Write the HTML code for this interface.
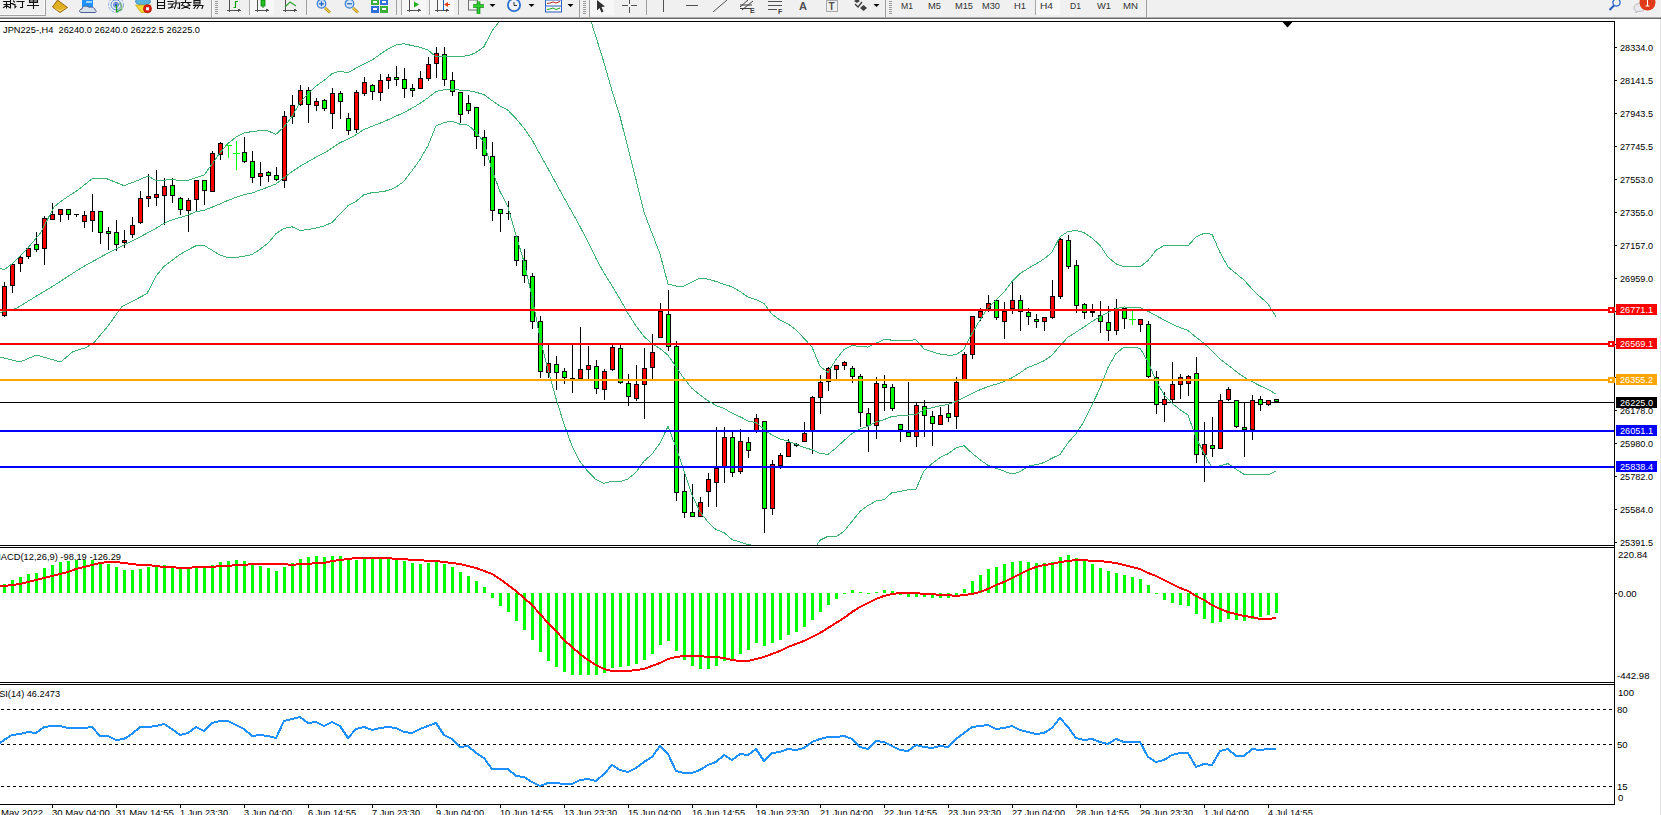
<!DOCTYPE html><html><head><meta charset="utf-8"><style>html,body{margin:0;padding:0;background:#fff;overflow:hidden;width:1661px;height:815px}svg{display:block}text{font-family:"Liberation Sans",sans-serif}</style></head><body>
<svg width="1661" height="815" viewBox="0 0 1661 815">
<rect x="0" y="0" width="1661" height="815" fill="#fff"/>
<g shape-rendering="crispEdges">
<rect x="0" y="0" width="1661" height="17" fill="#f0f0f0"/>
<rect x="0" y="17" width="1661" height="1" fill="#aaaaaa"/>
<rect x="0" y="18" width="1661" height="1" fill="#6c6c6c"/>
<rect x="1660" y="19" width="1" height="796" fill="#e2e2e2"/>
</g>
<g id="toolbar">
<!-- new order button -->
<g shape-rendering="crispEdges">
<rect x="0" y="14" width="45" height="1" fill="#fafafa"/>
<rect x="44" y="0" width="1" height="15" fill="#fafafa"/>
<rect x="0" y="15" width="46" height="1" fill="#a0a0a0"/>
<rect x="45" y="0" width="1" height="16" fill="#a0a0a0"/>
</g>
<g fill="none" stroke="#101010" stroke-width="1.1" stroke-linecap="square">
<!-- 新 -->
<path d="M3.5,1.5 H10 M4,4.5 H9.5 M6.5,1.5 V8 M3.5,7.5 L6.5,5.5 L9.5,7.5 M10.5,0.5 V8 M10.5,3.5 H13"/>
<!-- 订 -->
<path d="M13.5,1 L14.5,2 M13,4.5 H15 V7.5 L16,6.5 M17,1.5 H24 M22.5,1.5 V7.5 L20.5,7.5"/>
<!-- 单 -->
<path d="M27.5,5.5 H38.5 M29.5,0 V2.5 H37.5 V0 M29.5,1 H37.5 M33.5,0 V8.5"/>
</g>
<!-- book icon -->
<polygon points="52.5,7 57.5,0 67.5,7.5 60,12.5" fill="#e0b020" stroke="#9a6410" stroke-width="1"/>
<polygon points="54,8 60,11.5 66.5,7.5 60,10" fill="#f6dc70"/>
<!-- cloud icon -->
<rect x="82" y="0" width="11" height="7" fill="#1e90ff"/>
<rect x="86" y="1" width="6" height="2" fill="#9fd2ff"/>
<path d="M81,12.5 C79,12.5 79,9 82,9 C82,6 87,5 89,7.5 C91,6.5 95,7.5 95,10 C97,10.5 96.5,12.5 95,12.5 Z" fill="#d8e0ec" stroke="#4a6090" stroke-width="1"/>
<!-- signal icon -->
<g fill="none" stroke-width="1">
<circle cx="116" cy="4.8" r="7.5" stroke="#7fa8e0" stroke-dasharray="3,1.5"/>
<circle cx="116" cy="4.8" r="5" stroke="#5a86d8"/>
<circle cx="116" cy="4.8" r="2.5" stroke="#3f6fd0"/>
</g>
<circle cx="116" cy="4.8" r="1.5" fill="#1f4fc0"/>
<path d="M116.5,5 V12.5 M116.5,12 L122,9" stroke="#22a022" stroke-width="1.3" fill="none"/>
<path d="M119,3 A5,5 0 0 1 121,10" stroke="#70b070" stroke-width="2" fill="none" opacity="0.7"/>
<!-- auto trade icon -->
<ellipse cx="143" cy="1.5" rx="7.5" ry="3.5" fill="#5ab4e0" stroke="#3a8ab8" stroke-width="1"/>
<path d="M135.5,5 L141,12.5 L147,12.5 L151,5 Z" fill="#f2d838" stroke="#c8a820" stroke-width="0.8"/>
<circle cx="147.5" cy="8.8" r="4" fill="#e02010" stroke="#b01808" stroke-width="0.8"/>
<rect x="146" y="7.3" width="3" height="3" fill="#fff"/>
<!-- 自动交易 -->
<g fill="none" stroke="#101010" stroke-width="1.1" stroke-linecap="square">
<path d="M157.5,0 V8.5 M164.5,0 V8.5 M157.5,2.5 H164.5 M157.5,5.5 H164.5 M157.5,8.5 H164.5"/>
<path d="M168,1.5 H173 M168.5,4 H173 L171,7.5 M168.5,8 L173,7 M174,3 H179.5 V8.5 L178,8 M176,0 V4.5 L174.5,8.5"/>
<path d="M185.5,0 V1.5 M181,2.5 H191 M183,3.5 L181.5,5.5 M188,3.5 L190,5.5 M183,5.5 L189.5,8.5 M189,5.5 L182,8.5"/>
<path d="M194,0.5 H200 V4 H194 Z M194,2.2 H200 M193.5,5.5 H203 L202,8.5 M196,5.5 L194,8.5 M199,5.5 L197,8.5"/>
</g>
<!-- separators & grips -->
<g shape-rendering="crispEdges">
<rect x="211" y="0" width="1" height="17" fill="#a0a0a0"/>
<rect x="212" y="0" width="1" height="17" fill="#ffffff"/>
<rect x="306" y="0" width="1" height="15" fill="#a0a0a0"/>
<rect x="396" y="0" width="1" height="15" fill="#a0a0a0"/>
<rect x="458" y="0" width="1" height="15" fill="#a0a0a0"/>
<rect x="579" y="0" width="1" height="17" fill="#a0a0a0"/>
<rect x="589" y="0" width="1" height="17" fill="#a0a0a0"/>
<rect x="646" y="0" width="1" height="15" fill="#a0a0a0"/>
<rect x="885" y="0" width="1" height="17" fill="#a0a0a0"/>
<rect x="1146" y="0" width="1" height="17" fill="#a0a0a0"/>
<!-- pressed buttons -->
<rect x="249" y="0" width="25" height="15" fill="#f7f7f7"/>
<rect x="249" y="0" width="1" height="15" fill="#a8a8a8"/>
<rect x="401" y="0" width="25" height="15" fill="#f7f7f7"/>
<rect x="401" y="0" width="1" height="15" fill="#a8a8a8"/>
<rect x="429" y="0" width="25" height="15" fill="#f7f7f7"/>
<rect x="429" y="0" width="1" height="15" fill="#a8a8a8"/>
<rect x="590" y="0" width="24" height="15" fill="#f7f7f7"/>
<rect x="1035" y="0" width="25" height="15" fill="#f7f7f7"/>
<rect x="1035" y="0" width="1" height="15" fill="#a8a8a8"/>
</g>
<g fill="#9a9a9a" shape-rendering="crispEdges">
<rect x="215" y="1" width="3" height="1"/><rect x="215" y="3" width="3" height="1"/><rect x="215" y="5" width="3" height="1"/><rect x="215" y="7" width="3" height="1"/><rect x="215" y="9" width="3" height="1"/><rect x="215" y="11" width="3" height="1"/><rect x="215" y="13" width="3" height="1"/>
<rect x="583" y="1" width="3" height="1"/><rect x="583" y="3" width="3" height="1"/><rect x="583" y="5" width="3" height="1"/><rect x="583" y="7" width="3" height="1"/><rect x="583" y="9" width="3" height="1"/><rect x="583" y="11" width="3" height="1"/><rect x="583" y="13" width="3" height="1"/>
<rect x="889" y="1" width="3" height="1"/><rect x="889" y="3" width="3" height="1"/><rect x="889" y="5" width="3" height="1"/><rect x="889" y="7" width="3" height="1"/><rect x="889" y="9" width="3" height="1"/><rect x="889" y="11" width="3" height="1"/><rect x="889" y="13" width="3" height="1"/>
</g>
<!-- chart type icons: axes -->
<g fill="none" stroke="#505050" stroke-width="1" shape-rendering="crispEdges">
<path d="M229.5,0 V12 M227,10.5 H240 M238,9 L240,10.5 L238,12"/>
<path d="M257.5,0 V12 M255,10.5 H268 M266,9 L268,10.5 L266,12"/>
<path d="M285.5,0 V12 M283,10.5 H296 M294,9 L296,10.5 L294,12"/>
<path d="M409.5,0 V12 M407,10.5 H420 M418,9 L420,10.5 L418,12"/>
<path d="M437.5,0 V12 M435,10.5 H448 M446,9 L448,10.5 L446,12"/>
</g>
<path d="M235.5,1 V8 M235.5,1.5 H238 M233.5,7.5 H235.5" stroke="#10a010" stroke-width="1.2" fill="none"/>
<rect x="261" y="0" width="4" height="6" fill="#20c020" stroke="#108010" stroke-width="0.8"/>
<path d="M263,6 V8" stroke="#108010"/>
<path d="M285,7 L290,2 L296,6" stroke="#30a030" stroke-width="1.1" fill="none"/>
<polygon points="414,1.5 419,4.5 414,7.5" fill="#20b020"/>
<path d="M443.5,0 V11" stroke="#2060b0" stroke-width="1"/>
<polygon points="444,4.5 448,2 448,7" fill="#e04010"/>
<rect x="447" y="4" width="3" height="1" fill="#e04010"/>
<!-- zoom icons -->
<g>
<line x1="325" y1="8" x2="330" y2="12.5" stroke="#a08010" stroke-width="2.6"/>
<line x1="325" y1="8" x2="330" y2="12.5" stroke="#f0d040" stroke-width="1.4"/>
<circle cx="321.5" cy="3.8" r="4.3" fill="#d0e6f8" stroke="#3a7ad0" stroke-width="1.2"/>
<path d="M319,3.8 H324 M321.5,1.3 V6.3" stroke="#2060c0" stroke-width="1.2"/>
<line x1="353" y1="8" x2="358" y2="12.5" stroke="#a08010" stroke-width="2.6"/>
<line x1="353" y1="8" x2="358" y2="12.5" stroke="#f0d040" stroke-width="1.4"/>
<circle cx="349.5" cy="3.8" r="4.3" fill="#d0e6f8" stroke="#3a7ad0" stroke-width="1.2"/>
<path d="M347,3.8 H352" stroke="#2060c0" stroke-width="1.2"/>
</g>
<!-- tile icon -->
<g shape-rendering="crispEdges">
<rect x="371" y="0" width="8" height="5" fill="#3ab03a"/><rect x="380" y="0" width="8" height="5" fill="#2f6fd8"/>
<rect x="371" y="6" width="8" height="7" fill="#2f6fd8"/><rect x="380" y="6" width="8" height="7" fill="#3ab03a"/>
<rect x="373" y="1" width="4" height="2" fill="#fff"/><rect x="382" y="1" width="4" height="2" fill="#fff"/>
<rect x="373" y="8" width="4" height="2" fill="#fff"/><rect x="382" y="8" width="4" height="2" fill="#fff"/>
</g>
<!-- new chart icon -->
<rect x="468.5" y="0" width="9" height="10" fill="#f4f4f4" stroke="#707070" stroke-width="1"/>
<path d="M473,6 H484 M478.5,1.5 V14" stroke="#108010" stroke-width="3.6"/>
<path d="M473,6 H484 M478.5,1.5 V14" stroke="#30d030" stroke-width="2"/>
<polygon points="489.5,4 495.5,4 492.5,7" fill="#000"/>
<!-- clock -->
<circle cx="514" cy="5" r="7" fill="#2a6fd0"/>
<circle cx="514" cy="5" r="5.2" fill="#f0f4fa"/>
<path d="M514,2 V5.5 H517" stroke="#303030" stroke-width="1" fill="none"/>
<polygon points="528.5,4 534.5,4 531.5,7" fill="#000"/>
<!-- indicators icon -->
<rect x="545.5" y="0" width="16" height="12" fill="#f8f8f8" stroke="#2a60c0" stroke-width="1"/>
<rect x="546" y="5.5" width="15" height="1" fill="#2a60c0"/>
<path d="M547,3.5 L550,3 L553,2 L556,3 L560,1.5" stroke="#c03020" stroke-width="1" fill="none"/>
<path d="M547,9.5 L550,9 L553,8 L556,9.5 L560,8" stroke="#20a020" stroke-width="1" fill="none"/>
<polygon points="567.5,4 573.5,4 570.5,7" fill="#000"/>
<!-- cursor arrow -->
<polygon points="597,0 605,6.5 601.5,7 603.5,11.5 601.5,12.5 599.5,8 597,10.5" fill="#303030"/>
<!-- crosshair -->
<g shape-rendering="crispEdges" fill="#505050">
<rect x="622" y="5" width="6" height="1"/><rect x="631" y="5" width="6" height="1"/>
<rect x="629" y="0" width="1" height="4"/><rect x="629" y="7" width="1" height="6"/>
<rect x="663" y="0" width="1" height="12"/>
<rect x="686" y="5" width="12" height="1"/>
</g>
<line x1="713" y1="12" x2="727" y2="0" stroke="#505050" stroke-width="1"/>
<!-- channel E -->
<g stroke="#404040" stroke-width="1" fill="none">
<path d="M740,7 L748,0 M742,10 L753,1 M740,5 L752,5 M740,8.5 L751,8.5"/>
</g>
<text x="750" y="13" font-size="7" font-weight="bold" fill="#404040">E</text>
<!-- fibo F -->
<g shape-rendering="crispEdges" fill="#505050">
<rect x="768" y="1" width="14" height="1"/><rect x="768" y="5" width="14" height="1"/><rect x="768" y="9" width="9" height="1"/>
</g>
<text x="778" y="13.5" font-size="7" font-weight="bold" fill="#404040">F</text>
<text x="799" y="10" font-size="11" font-weight="bold" fill="#505050">A</text>
<rect x="826.5" y="0.5" width="11" height="11" fill="none" stroke="#606060" stroke-width="1" stroke-dasharray="1,1"/>
<text x="828.5" y="9.5" font-size="10" font-weight="bold" fill="#505050">T</text>
<!-- arrows icon -->
<polygon points="854,1 857,-1 860,1 857,3" fill="#404040"/>
<path d="M855,4 L858,7 L862,2" stroke="#404040" stroke-width="1.4" fill="none"/>
<polygon points="860,8 863.5,5 867,8 863.5,11" fill="#404040"/>
<polygon points="873.5,4 879.5,4 876.5,7" fill="#000"/>
<!-- periods -->
<g font-size="9.5" fill="#333">
<text x="901" y="9" textLength="12" lengthAdjust="spacingAndGlyphs">M1</text>
<text x="928" y="9" textLength="13" lengthAdjust="spacingAndGlyphs">M5</text>
<text x="955" y="9" textLength="18" lengthAdjust="spacingAndGlyphs">M15</text>
<text x="982" y="9" textLength="18" lengthAdjust="spacingAndGlyphs">M30</text>
<text x="1014" y="9" textLength="12" lengthAdjust="spacingAndGlyphs">H1</text>
<text x="1040" y="9" textLength="13" lengthAdjust="spacingAndGlyphs">H4</text>
<text x="1070" y="9" textLength="11" lengthAdjust="spacingAndGlyphs">D1</text>
<text x="1097" y="9" textLength="14" lengthAdjust="spacingAndGlyphs">W1</text>
<text x="1123" y="9" textLength="15" lengthAdjust="spacingAndGlyphs">MN</text>
</g>
<!-- search -->
<circle cx="1616.5" cy="2.5" r="3.6" fill="none" stroke="#2a66d0" stroke-width="1.3"/>
<line x1="1614" y1="5.5" x2="1609.5" y2="10" stroke="#2a5cc0" stroke-width="2"/>
<!-- chat + badge -->
<path d="M1634,8 C1634,4 1639,3 1642,3.5 C1645,4 1646,9 1643,11 L1637,11.5 L1636,13 L1636,11 C1634.5,10.5 1634,9.5 1634,8 Z" fill="#e8e8ec" stroke="#b0b0b0" stroke-width="0.8"/>
<circle cx="1647.5" cy="2.5" r="8" fill="#e03a18"/>
<path d="M1647.5,-1 V6 M1645.5,6 H1649.5" stroke="#fff" stroke-width="1.1" fill="none"/>
</g>

<g shape-rendering="crispEdges" fill="#000">
<rect x="0" y="21" width="1615" height="1"/>
<rect x="1614" y="21" width="1" height="784"/>
<rect x="0" y="545" width="1615" height="1"/>
<rect x="0" y="547" width="1615" height="1"/>
<rect x="0" y="682" width="1615" height="1"/>
<rect x="0" y="684" width="1615" height="1"/>
<rect x="0" y="804" width="1615" height="1"/>
<rect x="1615" y="47" width="2" height="1"/>
<rect x="1615" y="80" width="2" height="1"/>
<rect x="1615" y="113" width="2" height="1"/>
<rect x="1615" y="146" width="2" height="1"/>
<rect x="1615" y="179" width="2" height="1"/>
<rect x="1615" y="212" width="2" height="1"/>
<rect x="1615" y="245" width="2" height="1"/>
<rect x="1615" y="278" width="2" height="1"/>
<rect x="1615" y="311" width="2" height="1"/>
<rect x="1615" y="344" width="2" height="1"/>
<rect x="1615" y="377" width="2" height="1"/>
<rect x="1615" y="410" width="2" height="1"/>
<rect x="1615" y="443" width="2" height="1"/>
<rect x="1615" y="476" width="2" height="1"/>
<rect x="1615" y="509" width="2" height="1"/>
<rect x="1615" y="542" width="2" height="1"/>
<rect x="1615" y="593" width="2" height="1"/>
<rect x="52" y="805" width="1" height="3"/>
<rect x="116" y="805" width="1" height="3"/>
<rect x="180" y="805" width="1" height="3"/>
<rect x="244" y="805" width="1" height="3"/>
<rect x="308" y="805" width="1" height="3"/>
<rect x="372" y="805" width="1" height="3"/>
<rect x="436" y="805" width="1" height="3"/>
<rect x="500" y="805" width="1" height="3"/>
<rect x="564" y="805" width="1" height="3"/>
<rect x="628" y="805" width="1" height="3"/>
<rect x="692" y="805" width="1" height="3"/>
<rect x="756" y="805" width="1" height="3"/>
<rect x="820" y="805" width="1" height="3"/>
<rect x="884" y="805" width="1" height="3"/>
<rect x="948" y="805" width="1" height="3"/>
<rect x="1012" y="805" width="1" height="3"/>
<rect x="1076" y="805" width="1" height="3"/>
<rect x="1140" y="805" width="1" height="3"/>
<rect x="1204" y="805" width="1" height="3"/>
<rect x="1268" y="805" width="1" height="3"/>
</g>
<rect x="0" y="402" width="1614" height="1" fill="#000" shape-rendering="crispEdges"/>
<g shape-rendering="crispEdges">
<rect x="4" y="282" width="1" height="35" fill="#000"/>
<rect x="2" y="286" width="5" height="30" fill="#000"/>
<rect x="3" y="287" width="3" height="28" fill="#ff0000"/>
<rect x="12" y="264" width="1" height="29" fill="#000"/>
<rect x="10" y="264" width="5" height="22" fill="#000"/>
<rect x="11" y="265" width="3" height="20" fill="#ff0000"/>
<rect x="20" y="256" width="1" height="16" fill="#000"/>
<rect x="18" y="257" width="5" height="7" fill="#000"/>
<rect x="19" y="258" width="3" height="5" fill="#ff0000"/>
<rect x="28" y="246" width="1" height="13" fill="#000"/>
<rect x="26" y="248" width="5" height="9" fill="#000"/>
<rect x="27" y="249" width="3" height="7" fill="#ff0000"/>
<rect x="36" y="232" width="1" height="20" fill="#000"/>
<rect x="34" y="244" width="5" height="6" fill="#000"/>
<rect x="35" y="245" width="3" height="4" fill="#00ff00"/>
<rect x="44" y="216" width="1" height="49" fill="#000"/>
<rect x="42" y="218" width="5" height="31" fill="#000"/>
<rect x="43" y="219" width="3" height="29" fill="#ff0000"/>
<rect x="52" y="203" width="1" height="17" fill="#000"/>
<rect x="50" y="214" width="5" height="6" fill="#000"/>
<rect x="51" y="215" width="3" height="4" fill="#ff0000"/>
<rect x="60" y="209" width="1" height="13" fill="#000"/>
<rect x="58" y="209" width="5" height="6" fill="#000"/>
<rect x="59" y="210" width="3" height="4" fill="#ff0000"/>
<rect x="68" y="209" width="1" height="11" fill="#000"/>
<rect x="66" y="209" width="5" height="6" fill="#000"/>
<rect x="67" y="210" width="3" height="4" fill="#00ff00"/>
<rect x="76" y="214" width="1" height="3" fill="#000"/>
<rect x="74" y="214" width="5" height="1" fill="#000"/>
<rect x="84" y="211" width="1" height="17" fill="#000"/>
<rect x="82" y="215" width="5" height="7" fill="#000"/>
<rect x="83" y="216" width="3" height="5" fill="#ff0000"/>
<rect x="92" y="194" width="1" height="38" fill="#000"/>
<rect x="90" y="211" width="5" height="10" fill="#000"/>
<rect x="91" y="212" width="3" height="8" fill="#ff0000"/>
<rect x="100" y="211" width="1" height="33" fill="#000"/>
<rect x="98" y="211" width="5" height="22" fill="#000"/>
<rect x="99" y="212" width="3" height="20" fill="#00ff00"/>
<rect x="108" y="227" width="1" height="23" fill="#000"/>
<rect x="106" y="231" width="5" height="3" fill="#000"/>
<rect x="107" y="232" width="3" height="1" fill="#00ff00"/>
<rect x="116" y="220" width="1" height="31" fill="#000"/>
<rect x="114" y="232" width="5" height="13" fill="#000"/>
<rect x="115" y="233" width="3" height="11" fill="#00ff00"/>
<rect x="124" y="230" width="1" height="18" fill="#000"/>
<rect x="122" y="240" width="5" height="3" fill="#000"/>
<rect x="123" y="241" width="3" height="1" fill="#ff0000"/>
<rect x="132" y="217" width="1" height="21" fill="#000"/>
<rect x="130" y="225" width="5" height="10" fill="#000"/>
<rect x="131" y="226" width="3" height="8" fill="#ff0000"/>
<rect x="140" y="191" width="1" height="33" fill="#000"/>
<rect x="138" y="198" width="5" height="25" fill="#000"/>
<rect x="139" y="199" width="3" height="23" fill="#ff0000"/>
<rect x="148" y="174" width="1" height="33" fill="#000"/>
<rect x="146" y="196" width="5" height="3" fill="#000"/>
<rect x="147" y="197" width="3" height="1" fill="#ff0000"/>
<rect x="156" y="170" width="1" height="36" fill="#000"/>
<rect x="154" y="194" width="5" height="4" fill="#000"/>
<rect x="155" y="195" width="3" height="2" fill="#ff0000"/>
<rect x="164" y="178" width="1" height="47" fill="#000"/>
<rect x="162" y="186" width="5" height="10" fill="#000"/>
<rect x="163" y="187" width="3" height="8" fill="#ff0000"/>
<rect x="172" y="178" width="1" height="25" fill="#000"/>
<rect x="170" y="185" width="5" height="11" fill="#000"/>
<rect x="171" y="186" width="3" height="9" fill="#00ff00"/>
<rect x="180" y="197" width="1" height="18" fill="#000"/>
<rect x="178" y="198" width="5" height="12" fill="#000"/>
<rect x="179" y="199" width="3" height="10" fill="#00ff00"/>
<rect x="188" y="198" width="1" height="34" fill="#000"/>
<rect x="186" y="200" width="5" height="11" fill="#000"/>
<rect x="187" y="201" width="3" height="9" fill="#ff0000"/>
<rect x="196" y="180" width="1" height="31" fill="#000"/>
<rect x="194" y="180" width="5" height="20" fill="#000"/>
<rect x="195" y="181" width="3" height="18" fill="#ff0000"/>
<rect x="204" y="180" width="1" height="25" fill="#000"/>
<rect x="202" y="180" width="5" height="11" fill="#000"/>
<rect x="203" y="181" width="3" height="9" fill="#00ff00"/>
<rect x="212" y="151" width="1" height="41" fill="#000"/>
<rect x="210" y="153" width="5" height="39" fill="#000"/>
<rect x="211" y="154" width="3" height="37" fill="#ff0000"/>
<rect x="220" y="142" width="1" height="18" fill="#000"/>
<rect x="218" y="143" width="5" height="12" fill="#000"/>
<rect x="219" y="144" width="3" height="10" fill="#ff0000"/>
<rect x="228" y="145" width="1" height="13" fill="#00ff00"/>
<rect x="225" y="145" width="7" height="1" fill="#00ff00"/>
<rect x="236" y="141" width="1" height="29" fill="#00ff00"/>
<rect x="233" y="153" width="7" height="1" fill="#00ff00"/>
<rect x="244" y="137" width="1" height="26" fill="#000"/>
<rect x="242" y="152" width="5" height="10" fill="#000"/>
<rect x="243" y="153" width="3" height="8" fill="#00ff00"/>
<rect x="252" y="151" width="1" height="32" fill="#000"/>
<rect x="250" y="161" width="5" height="17" fill="#000"/>
<rect x="251" y="162" width="3" height="15" fill="#00ff00"/>
<rect x="260" y="162" width="1" height="24" fill="#000"/>
<rect x="258" y="173" width="5" height="4" fill="#000"/>
<rect x="259" y="174" width="3" height="2" fill="#ff0000"/>
<rect x="268" y="171" width="1" height="11" fill="#000"/>
<rect x="266" y="172" width="5" height="4" fill="#000"/>
<rect x="267" y="173" width="3" height="2" fill="#00ff00"/>
<rect x="276" y="167" width="1" height="14" fill="#000"/>
<rect x="274" y="175" width="5" height="5" fill="#000"/>
<rect x="275" y="176" width="3" height="3" fill="#00ff00"/>
<rect x="284" y="111" width="1" height="77" fill="#000"/>
<rect x="282" y="116" width="5" height="65" fill="#000"/>
<rect x="283" y="117" width="3" height="63" fill="#ff0000"/>
<rect x="292" y="95" width="1" height="29" fill="#000"/>
<rect x="290" y="105" width="5" height="12" fill="#000"/>
<rect x="291" y="106" width="3" height="10" fill="#ff0000"/>
<rect x="300" y="85" width="1" height="21" fill="#000"/>
<rect x="298" y="90" width="5" height="15" fill="#000"/>
<rect x="299" y="91" width="3" height="13" fill="#ff0000"/>
<rect x="308" y="87" width="1" height="36" fill="#000"/>
<rect x="306" y="90" width="5" height="15" fill="#000"/>
<rect x="307" y="91" width="3" height="13" fill="#00ff00"/>
<rect x="316" y="98" width="1" height="13" fill="#000"/>
<rect x="314" y="101" width="5" height="5" fill="#000"/>
<rect x="315" y="102" width="3" height="3" fill="#ff0000"/>
<rect x="324" y="99" width="1" height="12" fill="#000"/>
<rect x="322" y="100" width="5" height="9" fill="#000"/>
<rect x="323" y="101" width="3" height="7" fill="#00ff00"/>
<rect x="332" y="88" width="1" height="41" fill="#000"/>
<rect x="330" y="93" width="5" height="21" fill="#000"/>
<rect x="331" y="94" width="3" height="19" fill="#ff0000"/>
<rect x="340" y="91" width="1" height="28" fill="#000"/>
<rect x="338" y="93" width="5" height="9" fill="#000"/>
<rect x="339" y="94" width="3" height="7" fill="#00ff00"/>
<rect x="348" y="113" width="1" height="22" fill="#000"/>
<rect x="346" y="118" width="5" height="13" fill="#000"/>
<rect x="347" y="119" width="3" height="11" fill="#00ff00"/>
<rect x="356" y="90" width="1" height="43" fill="#000"/>
<rect x="354" y="92" width="5" height="38" fill="#000"/>
<rect x="355" y="93" width="3" height="36" fill="#ff0000"/>
<rect x="364" y="77" width="1" height="19" fill="#000"/>
<rect x="362" y="82" width="5" height="12" fill="#000"/>
<rect x="363" y="83" width="3" height="10" fill="#ff0000"/>
<rect x="372" y="84" width="1" height="16" fill="#000"/>
<rect x="370" y="85" width="5" height="7" fill="#000"/>
<rect x="371" y="86" width="3" height="5" fill="#00ff00"/>
<rect x="380" y="74" width="1" height="27" fill="#000"/>
<rect x="378" y="80" width="5" height="13" fill="#000"/>
<rect x="379" y="81" width="3" height="11" fill="#ff0000"/>
<rect x="388" y="74" width="1" height="15" fill="#000"/>
<rect x="386" y="77" width="5" height="4" fill="#000"/>
<rect x="387" y="78" width="3" height="2" fill="#ff0000"/>
<rect x="396" y="66" width="1" height="20" fill="#000"/>
<rect x="394" y="77" width="5" height="3" fill="#000"/>
<rect x="395" y="78" width="3" height="1" fill="#00ff00"/>
<rect x="404" y="68" width="1" height="30" fill="#000"/>
<rect x="402" y="79" width="5" height="10" fill="#000"/>
<rect x="403" y="80" width="3" height="8" fill="#00ff00"/>
<rect x="412" y="84" width="1" height="13" fill="#000"/>
<rect x="410" y="88" width="5" height="3" fill="#000"/>
<rect x="411" y="89" width="3" height="1" fill="#00ff00"/>
<rect x="420" y="71" width="1" height="18" fill="#000"/>
<rect x="418" y="78" width="5" height="11" fill="#000"/>
<rect x="419" y="79" width="3" height="9" fill="#ff0000"/>
<rect x="428" y="57" width="1" height="24" fill="#000"/>
<rect x="426" y="64" width="5" height="15" fill="#000"/>
<rect x="427" y="65" width="3" height="13" fill="#ff0000"/>
<rect x="436" y="47" width="1" height="31" fill="#000"/>
<rect x="434" y="53" width="5" height="11" fill="#000"/>
<rect x="435" y="54" width="3" height="9" fill="#ff0000"/>
<rect x="444" y="47" width="1" height="39" fill="#000"/>
<rect x="442" y="54" width="5" height="26" fill="#000"/>
<rect x="443" y="55" width="3" height="24" fill="#00ff00"/>
<rect x="452" y="72" width="1" height="24" fill="#000"/>
<rect x="450" y="80" width="5" height="12" fill="#000"/>
<rect x="451" y="81" width="3" height="10" fill="#00ff00"/>
<rect x="460" y="92" width="1" height="31" fill="#000"/>
<rect x="458" y="92" width="5" height="23" fill="#000"/>
<rect x="459" y="93" width="3" height="21" fill="#00ff00"/>
<rect x="468" y="95" width="1" height="19" fill="#000"/>
<rect x="466" y="103" width="5" height="8" fill="#000"/>
<rect x="467" y="104" width="3" height="6" fill="#00ff00"/>
<rect x="476" y="107" width="1" height="42" fill="#000"/>
<rect x="474" y="107" width="5" height="30" fill="#000"/>
<rect x="475" y="108" width="3" height="28" fill="#00ff00"/>
<rect x="484" y="130" width="1" height="36" fill="#000"/>
<rect x="482" y="137" width="5" height="19" fill="#000"/>
<rect x="483" y="138" width="3" height="17" fill="#00ff00"/>
<rect x="492" y="142" width="1" height="79" fill="#000"/>
<rect x="490" y="156" width="5" height="55" fill="#000"/>
<rect x="491" y="157" width="3" height="53" fill="#00ff00"/>
<rect x="500" y="209" width="1" height="23" fill="#000"/>
<rect x="498" y="209" width="5" height="5" fill="#000"/>
<rect x="499" y="210" width="3" height="3" fill="#00ff00"/>
<rect x="508" y="201" width="1" height="19" fill="#000"/>
<rect x="506" y="213" width="5" height="1" fill="#000"/>
<rect x="516" y="236" width="1" height="30" fill="#000"/>
<rect x="514" y="236" width="5" height="25" fill="#000"/>
<rect x="515" y="237" width="3" height="23" fill="#00ff00"/>
<rect x="524" y="249" width="1" height="34" fill="#000"/>
<rect x="522" y="260" width="5" height="16" fill="#000"/>
<rect x="523" y="261" width="3" height="14" fill="#00ff00"/>
<rect x="532" y="273" width="1" height="56" fill="#000"/>
<rect x="530" y="276" width="5" height="46" fill="#000"/>
<rect x="531" y="277" width="3" height="44" fill="#00ff00"/>
<rect x="540" y="316" width="1" height="62" fill="#000"/>
<rect x="538" y="321" width="5" height="51" fill="#000"/>
<rect x="539" y="322" width="3" height="49" fill="#00ff00"/>
<rect x="548" y="345" width="1" height="33" fill="#000"/>
<rect x="546" y="363" width="5" height="10" fill="#000"/>
<rect x="547" y="364" width="3" height="8" fill="#ff0000"/>
<rect x="556" y="356" width="1" height="34" fill="#000"/>
<rect x="554" y="364" width="5" height="9" fill="#000"/>
<rect x="555" y="365" width="3" height="7" fill="#00ff00"/>
<rect x="564" y="368" width="1" height="16" fill="#000"/>
<rect x="562" y="371" width="5" height="7" fill="#000"/>
<rect x="563" y="372" width="3" height="5" fill="#00ff00"/>
<rect x="572" y="345" width="1" height="48" fill="#000"/>
<rect x="570" y="378" width="5" height="1" fill="#000"/>
<rect x="580" y="327" width="1" height="52" fill="#000"/>
<rect x="578" y="369" width="5" height="10" fill="#000"/>
<rect x="579" y="370" width="3" height="8" fill="#ff0000"/>
<rect x="588" y="346" width="1" height="33" fill="#000"/>
<rect x="586" y="365" width="5" height="5" fill="#000"/>
<rect x="587" y="366" width="3" height="3" fill="#ff0000"/>
<rect x="596" y="360" width="1" height="34" fill="#000"/>
<rect x="594" y="366" width="5" height="23" fill="#000"/>
<rect x="595" y="367" width="3" height="21" fill="#00ff00"/>
<rect x="604" y="369" width="1" height="31" fill="#000"/>
<rect x="602" y="371" width="5" height="19" fill="#000"/>
<rect x="603" y="372" width="3" height="17" fill="#ff0000"/>
<rect x="612" y="345" width="1" height="26" fill="#000"/>
<rect x="610" y="347" width="5" height="23" fill="#000"/>
<rect x="611" y="348" width="3" height="21" fill="#ff0000"/>
<rect x="620" y="345" width="1" height="39" fill="#000"/>
<rect x="618" y="348" width="5" height="35" fill="#000"/>
<rect x="619" y="349" width="3" height="33" fill="#00ff00"/>
<rect x="628" y="374" width="1" height="32" fill="#000"/>
<rect x="626" y="383" width="5" height="14" fill="#000"/>
<rect x="627" y="384" width="3" height="12" fill="#00ff00"/>
<rect x="636" y="365" width="1" height="36" fill="#000"/>
<rect x="634" y="384" width="5" height="15" fill="#000"/>
<rect x="635" y="385" width="3" height="13" fill="#ff0000"/>
<rect x="644" y="348" width="1" height="71" fill="#000"/>
<rect x="642" y="368" width="5" height="17" fill="#000"/>
<rect x="643" y="369" width="3" height="15" fill="#ff0000"/>
<rect x="652" y="334" width="1" height="45" fill="#000"/>
<rect x="650" y="352" width="5" height="16" fill="#000"/>
<rect x="651" y="353" width="3" height="14" fill="#ff0000"/>
<rect x="660" y="303" width="1" height="35" fill="#000"/>
<rect x="658" y="311" width="5" height="27" fill="#000"/>
<rect x="659" y="312" width="3" height="25" fill="#ff0000"/>
<rect x="668" y="290" width="1" height="61" fill="#000"/>
<rect x="666" y="314" width="5" height="33" fill="#000"/>
<rect x="667" y="315" width="3" height="31" fill="#00ff00"/>
<rect x="676" y="341" width="1" height="160" fill="#000"/>
<rect x="674" y="346" width="5" height="147" fill="#000"/>
<rect x="675" y="347" width="3" height="145" fill="#00ff00"/>
<rect x="684" y="473" width="1" height="45" fill="#000"/>
<rect x="682" y="491" width="5" height="22" fill="#000"/>
<rect x="683" y="492" width="3" height="20" fill="#00ff00"/>
<rect x="692" y="484" width="1" height="33" fill="#000"/>
<rect x="690" y="512" width="5" height="5" fill="#000"/>
<rect x="691" y="513" width="3" height="3" fill="#00ff00"/>
<rect x="700" y="497" width="1" height="20" fill="#000"/>
<rect x="698" y="502" width="5" height="15" fill="#000"/>
<rect x="699" y="503" width="3" height="13" fill="#ff0000"/>
<rect x="708" y="473" width="1" height="34" fill="#000"/>
<rect x="706" y="479" width="5" height="13" fill="#000"/>
<rect x="707" y="480" width="3" height="11" fill="#ff0000"/>
<rect x="716" y="427" width="1" height="80" fill="#000"/>
<rect x="714" y="468" width="5" height="15" fill="#000"/>
<rect x="715" y="469" width="3" height="13" fill="#ff0000"/>
<rect x="724" y="427" width="1" height="56" fill="#000"/>
<rect x="722" y="437" width="5" height="30" fill="#000"/>
<rect x="723" y="438" width="3" height="28" fill="#ff0000"/>
<rect x="732" y="432" width="1" height="45" fill="#000"/>
<rect x="730" y="437" width="5" height="36" fill="#000"/>
<rect x="731" y="438" width="3" height="34" fill="#00ff00"/>
<rect x="740" y="429" width="1" height="45" fill="#000"/>
<rect x="738" y="441" width="5" height="31" fill="#000"/>
<rect x="739" y="442" width="3" height="29" fill="#ff0000"/>
<rect x="748" y="437" width="1" height="21" fill="#000"/>
<rect x="746" y="442" width="5" height="9" fill="#000"/>
<rect x="747" y="443" width="3" height="7" fill="#00ff00"/>
<rect x="756" y="414" width="1" height="19" fill="#000"/>
<rect x="754" y="418" width="5" height="14" fill="#000"/>
<rect x="755" y="419" width="3" height="12" fill="#ff0000"/>
<rect x="764" y="421" width="1" height="112" fill="#000"/>
<rect x="762" y="421" width="5" height="88" fill="#000"/>
<rect x="763" y="422" width="3" height="86" fill="#00ff00"/>
<rect x="772" y="460" width="1" height="55" fill="#000"/>
<rect x="770" y="464" width="5" height="45" fill="#000"/>
<rect x="771" y="465" width="3" height="43" fill="#ff0000"/>
<rect x="780" y="453" width="1" height="16" fill="#000"/>
<rect x="778" y="455" width="5" height="11" fill="#000"/>
<rect x="779" y="456" width="3" height="9" fill="#ff0000"/>
<rect x="788" y="439" width="1" height="18" fill="#000"/>
<rect x="786" y="442" width="5" height="15" fill="#000"/>
<rect x="787" y="443" width="3" height="13" fill="#ff0000"/>
<rect x="796" y="443" width="1" height="4" fill="#000"/>
<rect x="794" y="444" width="5" height="2" fill="#000"/>
<rect x="804" y="422" width="1" height="20" fill="#000"/>
<rect x="802" y="433" width="5" height="9" fill="#000"/>
<rect x="803" y="434" width="3" height="7" fill="#ff0000"/>
<rect x="812" y="396" width="1" height="58" fill="#000"/>
<rect x="810" y="397" width="5" height="35" fill="#000"/>
<rect x="811" y="398" width="3" height="33" fill="#ff0000"/>
<rect x="820" y="375" width="1" height="39" fill="#000"/>
<rect x="818" y="382" width="5" height="16" fill="#000"/>
<rect x="819" y="383" width="3" height="14" fill="#ff0000"/>
<rect x="828" y="367" width="1" height="24" fill="#000"/>
<rect x="826" y="368" width="5" height="14" fill="#000"/>
<rect x="827" y="369" width="3" height="12" fill="#ff0000"/>
<rect x="836" y="365" width="1" height="14" fill="#000"/>
<rect x="834" y="365" width="5" height="5" fill="#000"/>
<rect x="835" y="366" width="3" height="3" fill="#ff0000"/>
<rect x="844" y="361" width="1" height="9" fill="#000"/>
<rect x="842" y="362" width="5" height="4" fill="#000"/>
<rect x="843" y="363" width="3" height="2" fill="#ff0000"/>
<rect x="852" y="366" width="1" height="17" fill="#000"/>
<rect x="850" y="368" width="5" height="9" fill="#000"/>
<rect x="851" y="369" width="3" height="7" fill="#00ff00"/>
<rect x="860" y="374" width="1" height="53" fill="#000"/>
<rect x="858" y="376" width="5" height="37" fill="#000"/>
<rect x="859" y="377" width="3" height="35" fill="#00ff00"/>
<rect x="868" y="408" width="1" height="44" fill="#000"/>
<rect x="866" y="413" width="5" height="13" fill="#000"/>
<rect x="867" y="414" width="3" height="11" fill="#00ff00"/>
<rect x="876" y="377" width="1" height="62" fill="#000"/>
<rect x="874" y="383" width="5" height="43" fill="#000"/>
<rect x="875" y="384" width="3" height="41" fill="#ff0000"/>
<rect x="884" y="375" width="1" height="36" fill="#000"/>
<rect x="882" y="384" width="5" height="4" fill="#000"/>
<rect x="883" y="385" width="3" height="2" fill="#00ff00"/>
<rect x="892" y="384" width="1" height="27" fill="#000"/>
<rect x="890" y="387" width="5" height="22" fill="#000"/>
<rect x="891" y="388" width="3" height="20" fill="#00ff00"/>
<rect x="900" y="424" width="1" height="18" fill="#000"/>
<rect x="898" y="424" width="5" height="6" fill="#000"/>
<rect x="899" y="425" width="3" height="4" fill="#00ff00"/>
<rect x="908" y="382" width="1" height="55" fill="#000"/>
<rect x="906" y="432" width="5" height="5" fill="#000"/>
<rect x="907" y="433" width="3" height="3" fill="#00ff00"/>
<rect x="916" y="402" width="1" height="45" fill="#000"/>
<rect x="914" y="405" width="5" height="32" fill="#000"/>
<rect x="915" y="406" width="3" height="30" fill="#ff0000"/>
<rect x="924" y="400" width="1" height="37" fill="#000"/>
<rect x="922" y="406" width="5" height="10" fill="#000"/>
<rect x="923" y="407" width="3" height="8" fill="#00ff00"/>
<rect x="932" y="411" width="1" height="35" fill="#000"/>
<rect x="930" y="416" width="5" height="8" fill="#000"/>
<rect x="931" y="417" width="3" height="6" fill="#00ff00"/>
<rect x="940" y="407" width="1" height="18" fill="#000"/>
<rect x="938" y="415" width="5" height="10" fill="#000"/>
<rect x="939" y="416" width="3" height="8" fill="#ff0000"/>
<rect x="948" y="405" width="1" height="17" fill="#000"/>
<rect x="946" y="413" width="5" height="5" fill="#000"/>
<rect x="947" y="414" width="3" height="3" fill="#00ff00"/>
<rect x="956" y="377" width="1" height="52" fill="#000"/>
<rect x="954" y="382" width="5" height="35" fill="#000"/>
<rect x="955" y="383" width="3" height="33" fill="#ff0000"/>
<rect x="964" y="352" width="1" height="29" fill="#000"/>
<rect x="962" y="354" width="5" height="27" fill="#000"/>
<rect x="963" y="355" width="3" height="25" fill="#ff0000"/>
<rect x="972" y="316" width="1" height="43" fill="#000"/>
<rect x="970" y="316" width="5" height="39" fill="#000"/>
<rect x="971" y="317" width="3" height="37" fill="#ff0000"/>
<rect x="980" y="308" width="1" height="13" fill="#000"/>
<rect x="978" y="311" width="5" height="7" fill="#000"/>
<rect x="979" y="312" width="3" height="5" fill="#ff0000"/>
<rect x="988" y="295" width="1" height="17" fill="#000"/>
<rect x="986" y="303" width="5" height="6" fill="#000"/>
<rect x="987" y="304" width="3" height="4" fill="#ff0000"/>
<rect x="996" y="300" width="1" height="20" fill="#000"/>
<rect x="994" y="300" width="5" height="18" fill="#000"/>
<rect x="995" y="301" width="3" height="16" fill="#00ff00"/>
<rect x="1004" y="302" width="1" height="37" fill="#000"/>
<rect x="1002" y="311" width="5" height="11" fill="#000"/>
<rect x="1003" y="312" width="3" height="9" fill="#ff0000"/>
<rect x="1012" y="282" width="1" height="32" fill="#000"/>
<rect x="1010" y="300" width="5" height="9" fill="#000"/>
<rect x="1011" y="301" width="3" height="7" fill="#ff0000"/>
<rect x="1020" y="295" width="1" height="36" fill="#000"/>
<rect x="1018" y="300" width="5" height="12" fill="#000"/>
<rect x="1019" y="301" width="3" height="10" fill="#00ff00"/>
<rect x="1028" y="308" width="1" height="17" fill="#000"/>
<rect x="1026" y="312" width="5" height="5" fill="#000"/>
<rect x="1027" y="313" width="3" height="3" fill="#00ff00"/>
<rect x="1036" y="314" width="1" height="14" fill="#000"/>
<rect x="1034" y="319" width="5" height="3" fill="#000"/>
<rect x="1035" y="320" width="3" height="1" fill="#00ff00"/>
<rect x="1044" y="317" width="1" height="14" fill="#000"/>
<rect x="1042" y="317" width="5" height="5" fill="#000"/>
<rect x="1043" y="318" width="3" height="3" fill="#ff0000"/>
<rect x="1052" y="280" width="1" height="39" fill="#000"/>
<rect x="1050" y="296" width="5" height="22" fill="#000"/>
<rect x="1051" y="297" width="3" height="20" fill="#ff0000"/>
<rect x="1060" y="238" width="1" height="61" fill="#000"/>
<rect x="1058" y="239" width="5" height="58" fill="#000"/>
<rect x="1059" y="240" width="3" height="56" fill="#ff0000"/>
<rect x="1068" y="235" width="1" height="34" fill="#000"/>
<rect x="1066" y="240" width="5" height="27" fill="#000"/>
<rect x="1067" y="241" width="3" height="25" fill="#00ff00"/>
<rect x="1076" y="260" width="1" height="53" fill="#000"/>
<rect x="1074" y="265" width="5" height="41" fill="#000"/>
<rect x="1075" y="266" width="3" height="39" fill="#00ff00"/>
<rect x="1084" y="303" width="1" height="16" fill="#000"/>
<rect x="1082" y="304" width="5" height="9" fill="#000"/>
<rect x="1083" y="305" width="3" height="7" fill="#00ff00"/>
<rect x="1092" y="304" width="1" height="13" fill="#000"/>
<rect x="1090" y="311" width="5" height="2" fill="#000"/>
<rect x="1100" y="301" width="1" height="32" fill="#000"/>
<rect x="1098" y="315" width="5" height="7" fill="#000"/>
<rect x="1099" y="316" width="3" height="5" fill="#00ff00"/>
<rect x="1108" y="306" width="1" height="35" fill="#000"/>
<rect x="1106" y="322" width="5" height="9" fill="#000"/>
<rect x="1107" y="323" width="3" height="7" fill="#00ff00"/>
<rect x="1116" y="299" width="1" height="36" fill="#000"/>
<rect x="1114" y="308" width="5" height="23" fill="#000"/>
<rect x="1115" y="309" width="3" height="21" fill="#ff0000"/>
<rect x="1124" y="308" width="1" height="21" fill="#000"/>
<rect x="1122" y="308" width="5" height="11" fill="#000"/>
<rect x="1123" y="309" width="3" height="9" fill="#00ff00"/>
<rect x="1132" y="310" width="1" height="15" fill="#00ff00"/>
<rect x="1129" y="319" width="7" height="1" fill="#00ff00"/>
<rect x="1140" y="319" width="1" height="13" fill="#000"/>
<rect x="1138" y="319" width="5" height="6" fill="#000"/>
<rect x="1139" y="320" width="3" height="4" fill="#ff0000"/>
<rect x="1148" y="321" width="1" height="57" fill="#000"/>
<rect x="1146" y="324" width="5" height="53" fill="#000"/>
<rect x="1147" y="325" width="3" height="51" fill="#00ff00"/>
<rect x="1156" y="371" width="1" height="43" fill="#000"/>
<rect x="1154" y="377" width="5" height="28" fill="#000"/>
<rect x="1155" y="378" width="3" height="26" fill="#00ff00"/>
<rect x="1164" y="392" width="1" height="30" fill="#000"/>
<rect x="1162" y="399" width="5" height="6" fill="#000"/>
<rect x="1163" y="400" width="3" height="4" fill="#ff0000"/>
<rect x="1172" y="362" width="1" height="40" fill="#000"/>
<rect x="1170" y="384" width="5" height="16" fill="#000"/>
<rect x="1171" y="385" width="3" height="14" fill="#ff0000"/>
<rect x="1180" y="374" width="1" height="25" fill="#000"/>
<rect x="1178" y="377" width="5" height="8" fill="#000"/>
<rect x="1179" y="378" width="3" height="6" fill="#ff0000"/>
<rect x="1188" y="375" width="1" height="21" fill="#000"/>
<rect x="1186" y="376" width="5" height="8" fill="#000"/>
<rect x="1187" y="377" width="3" height="6" fill="#ff0000"/>
<rect x="1196" y="357" width="1" height="106" fill="#000"/>
<rect x="1194" y="373" width="5" height="82" fill="#000"/>
<rect x="1195" y="374" width="3" height="80" fill="#00ff00"/>
<rect x="1204" y="422" width="1" height="60" fill="#000"/>
<rect x="1202" y="444" width="5" height="11" fill="#000"/>
<rect x="1203" y="445" width="3" height="9" fill="#ff0000"/>
<rect x="1212" y="417" width="1" height="40" fill="#000"/>
<rect x="1210" y="445" width="5" height="4" fill="#000"/>
<rect x="1211" y="446" width="3" height="2" fill="#00ff00"/>
<rect x="1220" y="394" width="1" height="55" fill="#000"/>
<rect x="1218" y="400" width="5" height="49" fill="#000"/>
<rect x="1219" y="401" width="3" height="47" fill="#ff0000"/>
<rect x="1228" y="387" width="1" height="14" fill="#000"/>
<rect x="1226" y="389" width="5" height="11" fill="#000"/>
<rect x="1227" y="390" width="3" height="9" fill="#ff0000"/>
<rect x="1236" y="400" width="1" height="28" fill="#000"/>
<rect x="1234" y="400" width="5" height="27" fill="#000"/>
<rect x="1235" y="401" width="3" height="25" fill="#00ff00"/>
<rect x="1244" y="402" width="1" height="55" fill="#000"/>
<rect x="1242" y="427" width="5" height="3" fill="#000"/>
<rect x="1243" y="428" width="3" height="1" fill="#00ff00"/>
<rect x="1252" y="395" width="1" height="45" fill="#000"/>
<rect x="1250" y="400" width="5" height="30" fill="#000"/>
<rect x="1251" y="401" width="3" height="28" fill="#ff0000"/>
<rect x="1260" y="396" width="1" height="15" fill="#000"/>
<rect x="1258" y="399" width="5" height="6" fill="#000"/>
<rect x="1259" y="400" width="3" height="4" fill="#00ff00"/>
<rect x="1268" y="400" width="1" height="6" fill="#000"/>
<rect x="1266" y="400" width="5" height="5" fill="#000"/>
<rect x="1267" y="401" width="3" height="3" fill="#ff0000"/>
<rect x="1276" y="399" width="1" height="3" fill="#000"/>
<rect x="1274" y="399" width="5" height="3" fill="#000"/>
<rect x="1275" y="400" width="3" height="1" fill="#00ff00"/>
</g>
<defs><clipPath id="mainclip"><rect x="0" y="22" width="1614" height="523"/></clipPath></defs>
<g clip-path="url(#mainclip)" fill="none" stroke="#3cb371" stroke-width="1" shape-rendering="crispEdges">
<polyline points="0.0,268.0 4.0,270.0 12.0,264.0 27.0,249.0 40.5,233.0 54.0,207.0 62.0,200.5 78.0,190.0 93.0,178.0 105.0,178.0 124.0,185.6 135.0,181.6 148.0,176.0 156.0,180.7 164.0,180.2 172.0,179.4 180.0,180.6 188.0,180.3 196.0,177.6 204.0,175.1 212.0,164.2 220.0,152.7 228.0,143.4 236.0,137.2 244.0,133.1 252.0,131.5 260.0,130.7 268.0,131.0 276.0,134.3 284.0,126.9 292.0,116.6 300.0,102.3 308.0,93.9 316.0,86.0 324.0,80.5 332.0,73.6 340.0,71.2 348.0,72.7 356.0,68.2 364.0,64.1 372.0,60.0 380.0,54.4 388.0,49.1 396.0,45.0 404.0,43.7 412.0,45.6 420.0,47.2 428.0,49.9 436.0,57.0 444.0,56.8 452.0,56.9 460.0,56.2 468.0,55.9 476.0,52.5 484.0,46.6 492.0,30.8 500.0,20.7 508.0,13.3 516.0,2.2 524.0,-5.4 532.0,-16.9 540.0,-29.3 548.0,-32.5 556.0,-31.9 564.0,-28.8 572.0,-21.8 580.0,-8.3 588.0,11.7 596.0,37.1 604.0,62.7 612.0,90.6 620.0,116.5 628.0,148.2 636.0,179.5 644.0,211.9 652.0,233.2 660.0,254.0 668.0,284.0 676.0,286.1 684.0,286.1 692.0,282.0 700.0,278.0 708.0,279.2 716.0,281.4 724.0,284.3 732.0,286.8 740.0,291.4 748.0,297.2 756.0,299.6 764.0,303.3 772.0,314.2 780.0,320.0 788.0,323.9 796.0,329.9 804.0,338.4 812.0,347.0 820.0,366.3 828.0,372.5 836.0,359.5 844.0,349.6 852.0,345.6 860.0,346.5 868.0,347.1 876.0,343.2 884.0,339.6 892.0,340.1 900.0,340.1 908.0,340.5 916.0,339.7 924.0,348.9 932.0,351.8 940.0,354.0 948.0,355.2 956.0,354.9 964.0,349.1 972.0,333.5 980.0,320.0 988.0,307.7 996.0,300.1 1004.0,292.1 1012.0,281.5 1020.0,273.7 1028.0,268.5 1036.0,263.9 1044.0,259.0 1052.0,252.2 1060.0,236.8 1068.0,231.5 1076.0,230.5 1084.0,232.6 1092.0,238.0 1100.0,245.3 1108.0,257.2 1116.0,263.8 1124.0,266.8 1132.0,266.8 1140.0,266.9 1148.0,260.6 1156.0,250.4 1164.0,245.4 1172.0,245.1 1180.0,245.4 1188.0,245.9 1196.0,236.8 1204.0,233.4 1212.0,234.2 1220.0,252.5 1228.0,266.9 1236.0,273.4 1244.0,280.1 1252.0,288.8 1260.0,296.7 1268.0,303.8 1276.0,316.8"/>
<polyline points="0.0,312.5 16.0,308.5 54.0,285.5 81.0,268.0 108.0,253.0 135.0,239.6 156.0,228.3 164.0,223.3 172.0,219.9 180.0,217.5 188.0,215.1 196.0,211.7 204.0,210.3 212.0,207.2 220.0,203.9 228.0,200.4 236.0,197.4 244.0,194.7 252.0,193.0 260.0,190.0 268.0,187.1 276.0,183.9 284.0,177.7 292.0,171.7 300.0,166.3 308.0,161.7 316.0,157.1 324.0,153.2 332.0,148.1 340.0,142.7 348.0,139.2 356.0,134.8 364.0,129.4 372.0,126.3 380.0,123.2 388.0,119.8 396.0,116.1 404.0,112.5 412.0,108.2 420.0,103.4 428.0,97.8 436.0,91.5 444.0,89.7 452.0,89.0 460.0,90.2 468.0,90.5 476.0,92.3 484.0,94.6 492.0,100.5 500.0,106.1 508.0,110.2 516.0,118.6 524.0,128.2 532.0,139.7 540.0,154.3 548.0,168.6 556.0,183.2 564.0,197.7 572.0,212.1 580.0,226.6 588.0,241.7 596.0,258.4 604.0,273.0 612.0,285.8 620.0,299.2 628.0,313.5 636.0,325.9 644.0,336.6 652.0,343.6 660.0,348.5 668.0,355.2 676.0,366.8 684.0,378.6 692.0,388.4 700.0,394.9 708.0,400.7 716.0,405.5 724.0,408.4 732.0,413.2 740.0,416.7 748.0,421.0 756.0,422.5 764.0,429.4 772.0,435.2 780.0,438.9 788.0,441.1 796.0,444.2 804.0,447.5 812.0,449.7 820.0,453.3 828.0,454.4 836.0,448.0 844.0,440.5 852.0,433.5 860.0,429.0 868.0,426.3 876.0,422.1 884.0,419.6 892.0,416.4 900.0,415.8 908.0,415.1 916.0,414.5 924.0,409.8 932.0,407.8 940.0,405.8 948.0,404.5 956.0,401.4 964.0,397.4 972.0,393.4 980.0,389.8 988.0,386.6 996.0,384.2 1004.0,381.6 1012.0,377.8 1020.0,372.8 1028.0,367.4 1036.0,364.3 1044.0,360.8 1052.0,355.2 1060.0,345.7 1068.0,337.2 1076.0,332.2 1084.0,327.0 1092.0,321.4 1100.0,316.7 1108.0,312.4 1116.0,308.7 1124.0,307.0 1132.0,307.1 1140.0,307.5 1148.0,311.2 1156.0,315.6 1164.0,320.0 1172.0,324.2 1180.0,327.5 1188.0,330.5 1196.0,337.1 1204.0,343.4 1212.0,351.0 1220.0,359.1 1228.0,365.2 1236.0,371.3 1244.0,377.2 1252.0,381.6 1260.0,385.8 1268.0,389.3 1276.0,394.0"/>
<polyline points="0.0,357.0 20.0,362.0 36.4,355.0 60.7,362.0 73.0,351.6 86.0,347.6 94.5,342.0 108.0,326.0 121.5,307.0 147.0,293.6 156.0,276.0 164.0,266.4 172.0,260.3 180.0,254.4 188.0,249.9 196.0,245.7 204.0,245.4 212.0,250.2 220.0,255.2 228.0,257.5 236.0,257.6 244.0,256.2 252.0,254.5 260.0,249.3 268.0,243.2 276.0,233.5 284.0,228.5 292.0,226.8 300.0,230.4 308.0,229.6 316.0,228.1 324.0,225.9 332.0,222.5 340.0,214.1 348.0,205.7 356.0,201.4 364.0,194.7 372.0,192.6 380.0,191.9 388.0,190.6 396.0,187.2 404.0,181.3 412.0,170.7 420.0,159.6 428.0,145.7 436.0,126.0 444.0,122.6 452.0,121.1 460.0,124.2 468.0,125.1 476.0,132.0 484.0,142.6 492.0,170.1 500.0,191.4 508.0,207.0 516.0,235.0 524.0,261.8 532.0,296.4 540.0,337.9 548.0,369.7 556.0,398.4 564.0,424.1 572.0,445.9 580.0,461.6 588.0,471.6 596.0,479.7 604.0,483.4 612.0,481.0 620.0,481.9 628.0,478.9 636.0,472.3 644.0,461.2 652.0,454.1 660.0,443.0 668.0,426.4 676.0,447.5 684.0,471.1 692.0,494.8 700.0,511.8 708.0,522.2 716.0,529.6 724.0,532.6 732.0,539.6 740.0,542.0 748.0,544.8 756.0,545.4 764.0,555.5 772.0,556.3 780.0,557.7 788.0,558.4 796.0,558.5 804.0,556.5 812.0,552.5 820.0,540.3 828.0,536.3 836.0,536.6 844.0,531.3 852.0,521.4 860.0,511.5 868.0,505.5 876.0,501.0 884.0,499.6 892.0,492.7 900.0,491.5 908.0,489.7 916.0,489.2 924.0,470.7 932.0,463.7 940.0,457.5 948.0,453.8 956.0,447.8 964.0,445.7 972.0,453.2 980.0,459.6 988.0,465.4 996.0,468.2 1004.0,471.1 1012.0,474.1 1020.0,471.8 1028.0,466.2 1036.0,464.7 1044.0,462.6 1052.0,458.2 1060.0,454.5 1068.0,442.8 1076.0,433.8 1084.0,421.4 1092.0,404.9 1100.0,388.2 1108.0,367.5 1116.0,353.6 1124.0,347.1 1132.0,347.4 1140.0,348.2 1148.0,361.8 1156.0,380.7 1164.0,394.7 1172.0,403.3 1180.0,409.6 1188.0,415.1 1196.0,437.4 1204.0,453.5 1212.0,467.9 1220.0,465.7 1228.0,463.6 1236.0,469.2 1244.0,474.3 1252.0,474.4 1260.0,474.8 1268.0,474.8 1276.0,471.1"/>
</g>
<g shape-rendering="crispEdges">
<rect x="0" y="309" width="1608" height="2" fill="#ff0000"/>
<rect x="1608" y="307" width="7" height="6" fill="#ff0000"/>
<rect x="1610" y="309" width="2" height="2" fill="#fff"/>
<rect x="0" y="343" width="1608" height="2" fill="#ff0000"/>
<rect x="1608" y="341" width="7" height="6" fill="#ff0000"/>
<rect x="1610" y="343" width="2" height="2" fill="#fff"/>
<rect x="0" y="379" width="1608" height="2" fill="#ffa500"/>
<rect x="1608" y="377" width="7" height="6" fill="#ffa500"/>
<rect x="1610" y="379" width="2" height="2" fill="#fff"/>
<rect x="0" y="430" width="1608" height="2" fill="#0000ff"/>
<rect x="1608" y="430" width="6" height="2" fill="#0000ff"/>
<rect x="0" y="466" width="1608" height="2" fill="#0000ff"/>
<rect x="1608" y="466" width="6" height="2" fill="#0000ff"/>
</g>
<text x="1620" y="50.8" font-size="9.6" fill="#000" textLength="33" lengthAdjust="spacingAndGlyphs">28334.0</text>
<text x="1620" y="83.8" font-size="9.6" fill="#000" textLength="33" lengthAdjust="spacingAndGlyphs">28141.5</text>
<text x="1620" y="116.8" font-size="9.6" fill="#000" textLength="33" lengthAdjust="spacingAndGlyphs">27943.5</text>
<text x="1620" y="149.8" font-size="9.6" fill="#000" textLength="33" lengthAdjust="spacingAndGlyphs">27745.5</text>
<text x="1620" y="182.8" font-size="9.6" fill="#000" textLength="33" lengthAdjust="spacingAndGlyphs">27553.0</text>
<text x="1620" y="215.8" font-size="9.6" fill="#000" textLength="33" lengthAdjust="spacingAndGlyphs">27355.0</text>
<text x="1620" y="248.8" font-size="9.6" fill="#000" textLength="33" lengthAdjust="spacingAndGlyphs">27157.0</text>
<text x="1620" y="281.8" font-size="9.6" fill="#000" textLength="33" lengthAdjust="spacingAndGlyphs">26959.0</text>
<text x="1620" y="413.8" font-size="9.6" fill="#000" textLength="33" lengthAdjust="spacingAndGlyphs">26178.0</text>
<text x="1620" y="446.8" font-size="9.6" fill="#000" textLength="33" lengthAdjust="spacingAndGlyphs">25980.0</text>
<text x="1620" y="479.8" font-size="9.6" fill="#000" textLength="33" lengthAdjust="spacingAndGlyphs">25782.0</text>
<text x="1620" y="512.8" font-size="9.6" fill="#000" textLength="33" lengthAdjust="spacingAndGlyphs">25584.0</text>
<text x="1620" y="545.8" font-size="9.6" fill="#000" textLength="33" lengthAdjust="spacingAndGlyphs">25391.5</text>
<g shape-rendering="crispEdges">
<rect x="1616" y="304" width="41" height="11" fill="#ff0000"/>
<rect x="1616" y="338" width="41" height="11" fill="#ff0000"/>
<rect x="1616" y="374" width="41" height="11" fill="#ffa500"/>
<rect x="1616" y="397" width="41" height="11" fill="#000000"/>
<rect x="1616" y="425" width="41" height="11" fill="#0000ff"/>
<rect x="1616" y="461" width="41" height="11" fill="#0000ff"/>
</g>
<text x="1620" y="313.3" font-size="9.6" fill="#fff" textLength="33" lengthAdjust="spacingAndGlyphs">26771.1</text>
<text x="1620" y="347.3" font-size="9.6" fill="#fff" textLength="33" lengthAdjust="spacingAndGlyphs">26569.1</text>
<text x="1620" y="383.3" font-size="9.6" fill="#fff" textLength="33" lengthAdjust="spacingAndGlyphs">26355.2</text>
<text x="1620" y="406.3" font-size="9.6" fill="#fff" textLength="33" lengthAdjust="spacingAndGlyphs">26225.0</text>
<text x="1620" y="434.3" font-size="9.6" fill="#fff" textLength="33" lengthAdjust="spacingAndGlyphs">26051.1</text>
<text x="1620" y="470.3" font-size="9.6" fill="#fff" textLength="33" lengthAdjust="spacingAndGlyphs">25838.4</text>
<polygon points="1282.5,22 1292.5,22 1287.5,27.5" fill="#000"/>
<text x="3" y="33.3" font-size="9.6" fill="#000" textLength="197" lengthAdjust="spacingAndGlyphs">JPN225-,H4&#160;&#160;26240.0 26240.0 26222.5 26225.0</text>
<g shape-rendering="crispEdges" fill="#00ff00">
<rect x="3" y="584" width="3" height="9"/>
<rect x="11" y="580" width="3" height="13"/>
<rect x="19" y="577" width="3" height="16"/>
<rect x="27" y="574" width="3" height="19"/>
<rect x="35" y="573" width="3" height="20"/>
<rect x="43" y="568" width="3" height="25"/>
<rect x="51" y="565" width="3" height="28"/>
<rect x="59" y="562" width="3" height="31"/>
<rect x="67" y="561" width="3" height="32"/>
<rect x="75" y="560" width="3" height="33"/>
<rect x="83" y="560" width="3" height="33"/>
<rect x="91" y="560" width="3" height="33"/>
<rect x="99" y="562" width="3" height="31"/>
<rect x="107" y="564" width="3" height="29"/>
<rect x="115" y="567" width="3" height="26"/>
<rect x="123" y="570" width="3" height="23"/>
<rect x="131" y="570" width="3" height="23"/>
<rect x="139" y="569" width="3" height="24"/>
<rect x="147" y="567" width="3" height="26"/>
<rect x="155" y="566" width="3" height="27"/>
<rect x="163" y="565" width="3" height="28"/>
<rect x="171" y="566" width="3" height="27"/>
<rect x="179" y="567" width="3" height="26"/>
<rect x="187" y="568" width="3" height="25"/>
<rect x="195" y="567" width="3" height="26"/>
<rect x="203" y="568" width="3" height="25"/>
<rect x="211" y="565" width="3" height="28"/>
<rect x="219" y="562" width="3" height="31"/>
<rect x="227" y="561" width="3" height="32"/>
<rect x="235" y="560" width="3" height="33"/>
<rect x="243" y="561" width="3" height="32"/>
<rect x="251" y="564" width="3" height="29"/>
<rect x="259" y="566" width="3" height="27"/>
<rect x="267" y="568" width="3" height="25"/>
<rect x="275" y="571" width="3" height="22"/>
<rect x="283" y="567" width="3" height="26"/>
<rect x="291" y="563" width="3" height="30"/>
<rect x="299" y="559" width="3" height="34"/>
<rect x="307" y="557" width="3" height="36"/>
<rect x="315" y="556" width="3" height="37"/>
<rect x="323" y="557" width="3" height="36"/>
<rect x="331" y="556" width="3" height="37"/>
<rect x="339" y="556" width="3" height="37"/>
<rect x="347" y="560" width="3" height="33"/>
<rect x="355" y="560" width="3" height="33"/>
<rect x="363" y="559" width="3" height="34"/>
<rect x="371" y="559" width="3" height="34"/>
<rect x="379" y="559" width="3" height="34"/>
<rect x="387" y="559" width="3" height="34"/>
<rect x="395" y="560" width="3" height="33"/>
<rect x="403" y="561" width="3" height="32"/>
<rect x="411" y="563" width="3" height="30"/>
<rect x="419" y="564" width="3" height="29"/>
<rect x="427" y="563" width="3" height="30"/>
<rect x="435" y="562" width="3" height="31"/>
<rect x="443" y="564" width="3" height="29"/>
<rect x="451" y="567" width="3" height="26"/>
<rect x="459" y="572" width="3" height="21"/>
<rect x="467" y="576" width="3" height="17"/>
<rect x="475" y="581" width="3" height="12"/>
<rect x="483" y="587" width="3" height="6"/>
<rect x="491" y="593" width="3" height="5"/>
<rect x="499" y="593" width="3" height="13"/>
<rect x="507" y="593" width="3" height="19"/>
<rect x="515" y="593" width="3" height="28"/>
<rect x="523" y="593" width="3" height="37"/>
<rect x="531" y="593" width="3" height="47"/>
<rect x="539" y="593" width="3" height="59"/>
<rect x="547" y="593" width="3" height="68"/>
<rect x="555" y="593" width="3" height="74"/>
<rect x="563" y="593" width="3" height="79"/>
<rect x="571" y="593" width="3" height="82"/>
<rect x="579" y="593" width="3" height="82"/>
<rect x="587" y="593" width="3" height="82"/>
<rect x="595" y="593" width="3" height="82"/>
<rect x="603" y="593" width="3" height="80"/>
<rect x="611" y="593" width="3" height="75"/>
<rect x="619" y="593" width="3" height="74"/>
<rect x="627" y="593" width="3" height="73"/>
<rect x="635" y="593" width="3" height="71"/>
<rect x="643" y="593" width="3" height="67"/>
<rect x="651" y="593" width="3" height="61"/>
<rect x="659" y="593" width="3" height="52"/>
<rect x="667" y="593" width="3" height="48"/>
<rect x="675" y="593" width="3" height="58"/>
<rect x="683" y="593" width="3" height="67"/>
<rect x="691" y="593" width="3" height="73"/>
<rect x="699" y="593" width="3" height="76"/>
<rect x="707" y="593" width="3" height="76"/>
<rect x="715" y="593" width="3" height="73"/>
<rect x="723" y="593" width="3" height="68"/>
<rect x="731" y="593" width="3" height="66"/>
<rect x="739" y="593" width="3" height="61"/>
<rect x="747" y="593" width="3" height="57"/>
<rect x="755" y="593" width="3" height="50"/>
<rect x="763" y="593" width="3" height="53"/>
<rect x="771" y="593" width="3" height="50"/>
<rect x="779" y="593" width="3" height="47"/>
<rect x="787" y="593" width="3" height="42"/>
<rect x="795" y="593" width="3" height="39"/>
<rect x="803" y="593" width="3" height="34"/>
<rect x="811" y="593" width="3" height="27"/>
<rect x="819" y="593" width="3" height="19"/>
<rect x="827" y="593" width="3" height="12"/>
<rect x="835" y="593" width="3" height="6"/>
<rect x="843" y="593" width="3" height="1"/>
<rect x="851" y="590" width="3" height="3"/>
<rect x="859" y="592" width="3" height="1"/>
<rect x="867" y="593" width="3" height="1"/>
<rect x="875" y="592" width="3" height="1"/>
<rect x="883" y="590" width="3" height="3"/>
<rect x="891" y="591" width="3" height="2"/>
<rect x="899" y="593" width="3" height="2"/>
<rect x="907" y="593" width="3" height="4"/>
<rect x="915" y="593" width="3" height="4"/>
<rect x="923" y="593" width="3" height="4"/>
<rect x="931" y="593" width="3" height="5"/>
<rect x="939" y="593" width="3" height="5"/>
<rect x="947" y="593" width="3" height="5"/>
<rect x="955" y="593" width="3" height="2"/>
<rect x="963" y="589" width="3" height="4"/>
<rect x="971" y="581" width="3" height="12"/>
<rect x="979" y="575" width="3" height="18"/>
<rect x="987" y="569" width="3" height="24"/>
<rect x="995" y="567" width="3" height="26"/>
<rect x="1003" y="564" width="3" height="29"/>
<rect x="1011" y="562" width="3" height="31"/>
<rect x="1019" y="561" width="3" height="32"/>
<rect x="1027" y="562" width="3" height="31"/>
<rect x="1035" y="563" width="3" height="30"/>
<rect x="1043" y="563" width="3" height="30"/>
<rect x="1051" y="562" width="3" height="31"/>
<rect x="1059" y="557" width="3" height="36"/>
<rect x="1067" y="555" width="3" height="38"/>
<rect x="1075" y="558" width="3" height="35"/>
<rect x="1083" y="561" width="3" height="32"/>
<rect x="1091" y="564" width="3" height="29"/>
<rect x="1099" y="568" width="3" height="25"/>
<rect x="1107" y="571" width="3" height="22"/>
<rect x="1115" y="573" width="3" height="20"/>
<rect x="1123" y="575" width="3" height="18"/>
<rect x="1131" y="577" width="3" height="16"/>
<rect x="1139" y="579" width="3" height="14"/>
<rect x="1147" y="585" width="3" height="8"/>
<rect x="1155" y="593" width="3" height="1"/>
<rect x="1163" y="593" width="3" height="7"/>
<rect x="1171" y="593" width="3" height="10"/>
<rect x="1179" y="593" width="3" height="12"/>
<rect x="1187" y="593" width="3" height="13"/>
<rect x="1195" y="593" width="3" height="21"/>
<rect x="1203" y="593" width="3" height="26"/>
<rect x="1211" y="593" width="3" height="30"/>
<rect x="1219" y="593" width="3" height="29"/>
<rect x="1227" y="593" width="3" height="26"/>
<rect x="1235" y="593" width="3" height="27"/>
<rect x="1243" y="593" width="3" height="28"/>
<rect x="1251" y="593" width="3" height="26"/>
<rect x="1259" y="593" width="3" height="24"/>
<rect x="1267" y="593" width="3" height="22"/>
<rect x="1275" y="593" width="3" height="20"/>
</g>
<polyline points="0,586 4.0,586.0 12.0,585.0 20.0,584.0 28.0,582.0 36.0,580.0 44.0,578.0 52.0,576.0 60.0,574.0 68.0,572.0 76.0,569.0 84.0,567.0 92.0,565.0 100.0,563.0 108.0,562.0 116.0,562.0 124.0,563.0 132.0,564.0 140.0,565.0 148.0,565.0 156.0,566.0 164.0,567.0 172.0,567.0 180.0,568.0 188.0,568.0 196.0,567.0 204.0,567.0 212.0,567.0 220.0,566.0 228.0,566.0 236.0,565.0 244.0,565.0 252.0,564.0 260.0,564.0 268.0,564.0 276.0,564.0 284.0,564.0 292.0,565.0 300.0,564.0 308.0,564.0 316.0,563.0 324.0,563.0 332.0,561.0 340.0,560.0 348.0,559.0 356.0,558.0 364.0,558.0 372.0,558.0 380.0,558.0 388.0,558.0 396.0,559.0 404.0,559.0 412.0,560.0 420.0,560.0 428.0,561.0 436.0,561.0 444.0,562.0 452.0,563.0 460.0,564.0 468.0,566.0 476.0,568.0 484.0,571.0 492.0,574.0 500.0,579.0 508.0,585.0 516.0,591.0 524.0,598.0 532.0,605.0 540.0,614.0 548.0,623.0 556.0,631.0 564.0,640.0 572.0,647.0 580.0,654.0 588.0,660.0 596.0,665.0 604.0,669.0 612.0,671.0 620.0,671.0 628.0,671.0 636.0,670.0 644.0,669.0 652.0,666.0 660.0,663.0 668.0,659.0 676.0,657.0 684.0,656.0 692.0,656.0 700.0,656.0 708.0,657.0 716.0,657.0 724.0,658.0 732.0,660.0 740.0,661.0 748.0,661.0 756.0,659.0 764.0,657.0 772.0,654.0 780.0,651.0 788.0,647.0 796.0,644.0 804.0,641.0 812.0,637.0 820.0,633.0 828.0,628.0 836.0,623.0 844.0,618.0 852.0,612.0 860.0,607.0 868.0,603.0 876.0,599.0 884.0,596.0 892.0,594.0 900.0,593.0 908.0,593.0 916.0,593.0 924.0,594.0 932.0,594.0 940.0,595.0 948.0,595.0 956.0,596.0 964.0,595.0 972.0,594.0 980.0,592.0 988.0,589.0 996.0,585.0 1004.0,582.0 1012.0,578.0 1020.0,574.0 1028.0,570.0 1036.0,567.0 1044.0,565.0 1052.0,564.0 1060.0,562.0 1068.0,561.0 1076.0,560.0 1084.0,560.0 1092.0,561.0 1100.0,561.0 1108.0,562.0 1116.0,563.0 1124.0,565.0 1132.0,567.0 1140.0,569.0 1148.0,573.0 1156.0,576.0 1164.0,580.0 1172.0,584.0 1180.0,588.0 1188.0,591.0 1196.0,596.0 1204.0,600.0 1212.0,605.0 1220.0,609.0 1228.0,612.0 1236.0,614.0 1244.0,616.0 1252.0,617.0 1260.0,619.0 1268.0,619.0 1276.0,618.0" fill="none" stroke="#ff0000" stroke-width="2" shape-rendering="crispEdges"/>
<text x="-7" y="560.3" font-size="9.6" fill="#000" textLength="128" lengthAdjust="spacingAndGlyphs">MACD(12,26,9) -98.19 -126.29</text>
<text x="1618" y="558.3" font-size="9.6" fill="#000">220.84</text>
<text x="1618" y="597.3" font-size="9.6" fill="#000">0.00</text>
<text x="1617" y="679.3" font-size="9.6" fill="#000">-442.98</text>
<g fill="none" stroke="#000" stroke-width="1" stroke-dasharray="3,3" shape-rendering="crispEdges">
<line x1="1" y1="709.5" x2="1613" y2="709.5"/>
<line x1="1" y1="744.5" x2="1613" y2="744.5"/>
<line x1="1" y1="786.5" x2="1613" y2="786.5"/>
</g>
<polyline points="0,743 4.0,740.0 12.0,735.0 20.0,734.0 28.0,732.0 36.0,733.0 44.0,727.0 52.0,726.0 60.0,726.0 68.0,728.0 76.0,728.0 84.0,728.0 92.0,727.0 100.0,736.0 108.0,736.0 116.0,740.0 124.0,739.0 132.0,734.0 140.0,727.0 148.0,727.0 156.0,726.0 164.0,724.0 172.0,729.0 180.0,735.0 188.0,733.0 196.0,727.0 204.0,731.0 212.0,723.0 220.0,721.0 228.0,721.0 236.0,725.0 244.0,729.0 252.0,736.0 260.0,735.0 268.0,736.0 276.0,738.0 284.0,721.0 292.0,719.0 300.0,717.0 308.0,723.0 316.0,722.0 324.0,726.0 332.0,722.0 340.0,726.0 348.0,738.0 356.0,729.0 364.0,727.0 372.0,730.0 380.0,728.0 388.0,727.0 396.0,728.0 404.0,732.0 412.0,733.0 420.0,729.0 428.0,726.0 436.0,723.0 444.0,735.0 452.0,739.0 460.0,747.0 468.0,746.0 476.0,753.0 484.0,758.0 492.0,769.0 500.0,769.0 508.0,769.0 516.0,776.0 524.0,777.0 532.0,782.0 540.0,786.0 548.0,783.0 556.0,783.0 564.0,784.0 572.0,784.0 580.0,780.0 588.0,779.0 596.0,781.0 604.0,774.0 612.0,765.0 620.0,770.0 628.0,772.0 636.0,768.0 644.0,762.0 652.0,757.0 660.0,746.0 668.0,754.0 676.0,771.0 684.0,773.0 692.0,773.0 700.0,770.0 708.0,765.0 716.0,762.0 724.0,755.0 732.0,760.0 740.0,754.0 748.0,755.0 756.0,749.0 764.0,761.0 772.0,753.0 780.0,752.0 788.0,749.0 796.0,750.0 804.0,748.0 812.0,742.0 820.0,739.0 828.0,737.0 836.0,737.0 844.0,736.0 852.0,739.0 860.0,747.0 868.0,749.0 876.0,741.0 884.0,742.0 892.0,746.0 900.0,750.0 908.0,751.0 916.0,745.0 924.0,747.0 932.0,748.0 940.0,746.0 948.0,747.0 956.0,739.0 964.0,733.0 972.0,727.0 980.0,726.0 988.0,725.0 996.0,729.0 1004.0,728.0 1012.0,726.0 1020.0,730.0 1028.0,732.0 1036.0,734.0 1044.0,733.0 1052.0,728.0 1060.0,718.0 1068.0,727.0 1076.0,738.0 1084.0,740.0 1092.0,739.0 1100.0,742.0 1108.0,744.0 1116.0,739.0 1124.0,742.0 1132.0,742.0 1140.0,742.0 1148.0,757.0 1156.0,762.0 1164.0,760.0 1172.0,755.0 1180.0,753.0 1188.0,753.0 1196.0,767.0 1204.0,764.0 1212.0,765.0 1220.0,751.0 1228.0,749.0 1236.0,756.0 1244.0,756.0 1252.0,749.0 1260.0,750.0 1268.0,749.0 1276.0,749.0" fill="none" stroke="#1e90ff" stroke-width="2" shape-rendering="crispEdges"/>
<text x="-7.5" y="697.3" font-size="9.6" fill="#000" textLength="67.5" lengthAdjust="spacingAndGlyphs">RSI(14) 46.2473</text>
<text x="1618" y="695.8" font-size="9.6" fill="#000">100</text>
<text x="1617" y="713.3" font-size="9.6" fill="#000">80</text>
<text x="1617" y="748.3" font-size="9.6" fill="#000">50</text>
<text x="1617" y="789.8" font-size="9.6" fill="#000">15</text>
<text x="1618" y="801.3" font-size="9.6" fill="#000">0</text>
<text x="1" y="816.3" font-size="9.6" fill="#000">May 2022</text>
<text x="52" y="816.3" font-size="9.6" fill="#000" textLength="57.8" lengthAdjust="spacingAndGlyphs">30 May 04:00</text>
<text x="116" y="816.3" font-size="9.6" fill="#000" textLength="57.8" lengthAdjust="spacingAndGlyphs">31 May 14:55</text>
<text x="180" y="816.3" font-size="9.6" fill="#000" textLength="48" lengthAdjust="spacingAndGlyphs">1 Jun 23:30</text>
<text x="244" y="816.3" font-size="9.6" fill="#000" textLength="48" lengthAdjust="spacingAndGlyphs">3 Jun 04:00</text>
<text x="308" y="816.3" font-size="9.6" fill="#000" textLength="48" lengthAdjust="spacingAndGlyphs">6 Jun 14:55</text>
<text x="372" y="816.3" font-size="9.6" fill="#000" textLength="48" lengthAdjust="spacingAndGlyphs">7 Jun 23:30</text>
<text x="436" y="816.3" font-size="9.6" fill="#000" textLength="48" lengthAdjust="spacingAndGlyphs">9 Jun 04:00</text>
<text x="500" y="816.3" font-size="9.6" fill="#000" textLength="53" lengthAdjust="spacingAndGlyphs">10 Jun 14:55</text>
<text x="564" y="816.3" font-size="9.6" fill="#000" textLength="53" lengthAdjust="spacingAndGlyphs">13 Jun 23:30</text>
<text x="628" y="816.3" font-size="9.6" fill="#000" textLength="53" lengthAdjust="spacingAndGlyphs">15 Jun 04:00</text>
<text x="692" y="816.3" font-size="9.6" fill="#000" textLength="53" lengthAdjust="spacingAndGlyphs">16 Jun 14:55</text>
<text x="756" y="816.3" font-size="9.6" fill="#000" textLength="53" lengthAdjust="spacingAndGlyphs">19 Jun 23:30</text>
<text x="820" y="816.3" font-size="9.6" fill="#000" textLength="53" lengthAdjust="spacingAndGlyphs">21 Jun 04:00</text>
<text x="884" y="816.3" font-size="9.6" fill="#000" textLength="53" lengthAdjust="spacingAndGlyphs">22 Jun 14:55</text>
<text x="948" y="816.3" font-size="9.6" fill="#000" textLength="53" lengthAdjust="spacingAndGlyphs">23 Jun 23:30</text>
<text x="1012" y="816.3" font-size="9.6" fill="#000" textLength="53" lengthAdjust="spacingAndGlyphs">27 Jun 04:00</text>
<text x="1076" y="816.3" font-size="9.6" fill="#000" textLength="53" lengthAdjust="spacingAndGlyphs">28 Jun 14:55</text>
<text x="1140" y="816.3" font-size="9.6" fill="#000" textLength="53" lengthAdjust="spacingAndGlyphs">29 Jun 23:30</text>
<text x="1204" y="816.3" font-size="9.6" fill="#000" textLength="44.8" lengthAdjust="spacingAndGlyphs">1 Jul 04:00</text>
<text x="1268" y="816.3" font-size="9.6" fill="#000" textLength="44.8" lengthAdjust="spacingAndGlyphs">4 Jul 14:55</text>
</svg></body></html>
